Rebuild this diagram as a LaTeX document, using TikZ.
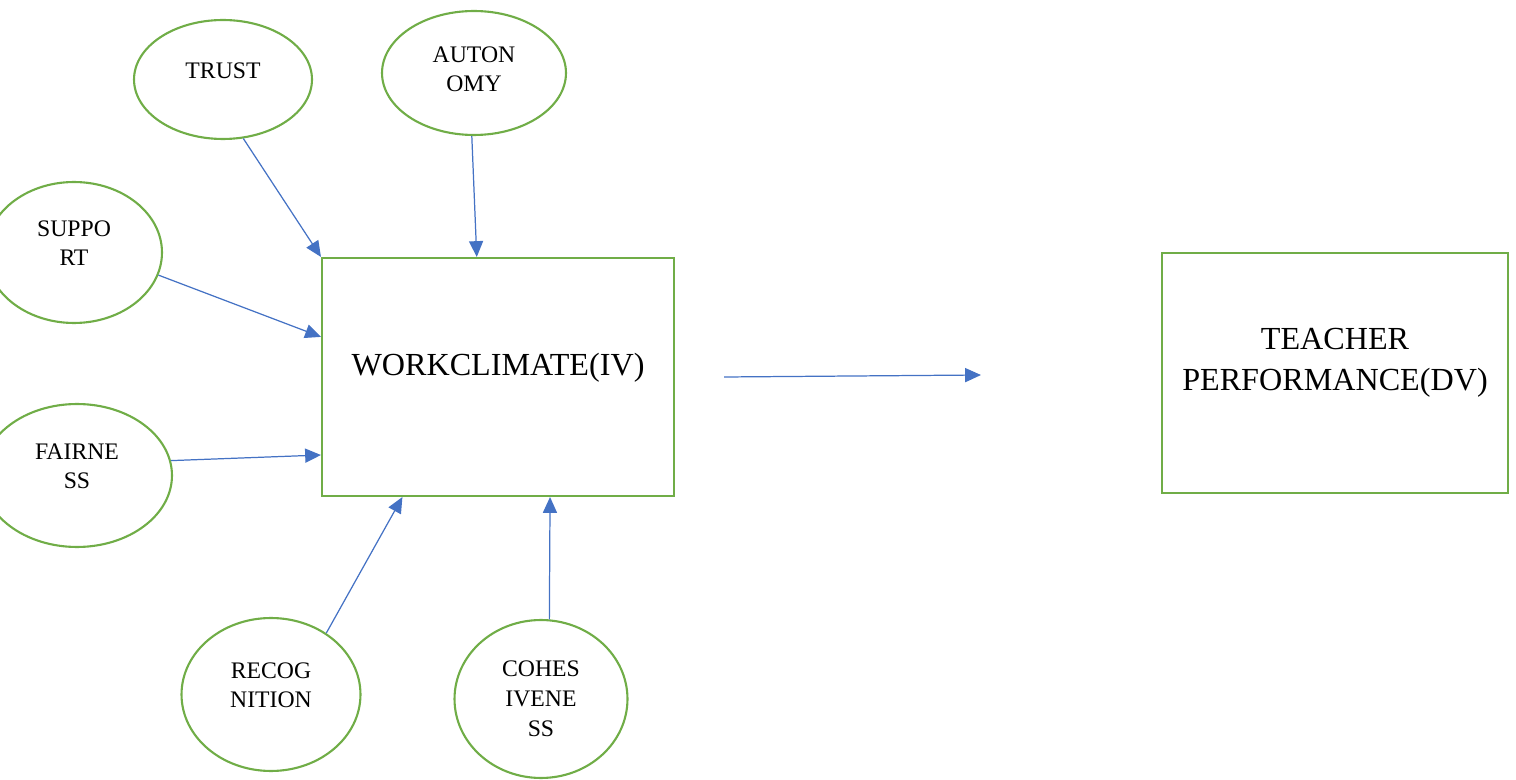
\documentclass[tikz,border=0pt]{standalone}
\usepackage{fontspec}
\setmainfont{Liberation Serif}
\usetikzlibrary{shapes.geometric,arrows.meta,calc}
\definecolor{grn}{HTML}{70AD47}
\definecolor{blu}{HTML}{4472C4}
\begin{document}
\begin{tikzpicture}[x=0.02cm,y=-0.02cm,
  factor/.style={ellipse,draw=grn,line width=1.2pt,inner sep=0pt},
  var/.style={rectangle,draw=grn,line width=1.2pt,inner sep=0pt},
  lbl/.style={align=center,yshift=0.18cm,font=\fontsize{13.5}{16.5}\selectfont},
  biglbl/.style={align=center,yshift=0.18cm,font=\fontsize{18.3}{23.2}\selectfont}]
      \useasboundingbox (0,0) rectangle (1516,780);
      \begin{scope}
      \node[factor,minimum width=3.56cm,minimum height=2.38cm,
        label={[lbl,name=trusttxt]center:TRUST}] (trust) at (223,79.5) {};
      \node[factor,minimum width=3.68cm,minimum height=2.48cm,
        label={[lbl,yshift=-0.1cm,name=autotxt]center:AUTON\\OMY}] (auto) at (474,73) {};
      \node[factor,minimum width=3.52cm,minimum height=2.82cm,
        label={[lbl,name=supptxt]center:SUPPO\\RT}] (supp) at (74,252.5) {};
      \node[factor,minimum width=3.8cm,minimum height=2.86cm,
        label={[lbl,name=fairtxt]center:FAIRNE\\SS}] (fair) at (77,475.5) {};
      \node[factor,minimum width=3.58cm,minimum height=3.06cm,
        label={[lbl,name=recogtxt]center:RECOG\\NITION}] (recog) at (271,694.5) {};
      \node[factor,minimum width=3.46cm,minimum height=3.16cm,
        label={[lbl,yshift=-0.18cm,font=\fontsize{13.5}{17}\selectfont,name=cohestxt]center:COHES\\IVENE\\SS}] (cohes) at (541,699) {};
      \node[var,minimum width=7.04cm,minimum height=4.76cm,
        label={[biglbl,name=wctxt]center:WORKCLIMATE(IV)}] (wc) at (498,377) {};
      \node[var,minimum width=6.92cm,minimum height=4.8cm,
        label={[biglbl,yshift=0.02cm,name=tptxt]center:TEACHER\\PERFORMANCE(DV)}] (tp) at (1335,373) {};
      \coordinate (gapstart) at (724,377);
      \coordinate (gapend) at (981,375);
      \end{scope}
      \begin{scope}[every edge/.style={draw=blu,line width=0.7pt,-{Triangle[length=9pt,width=8pt]}}]
      \path (trust.-71) edge (wc.north west);
      \path (auto.-92) edge ($(wc.north west)!0.44!(wc.north east)$);
      \path (supp.-15) edge ($(wc.north west)!0.333!(wc.south west)$);
      \path (fair.9) edge ($(wc.north west)!0.825!(wc.south west)$);
      \path (recog.48) edge ($(wc.south west)!0.23!(wc.south east)$);
      \path (cohes.84) edge ($(wc.south west)!0.647!(wc.south east)$);
      \path (gapstart) edge (gapend);
      \end{scope}
      \end{tikzpicture}
\end{document}
